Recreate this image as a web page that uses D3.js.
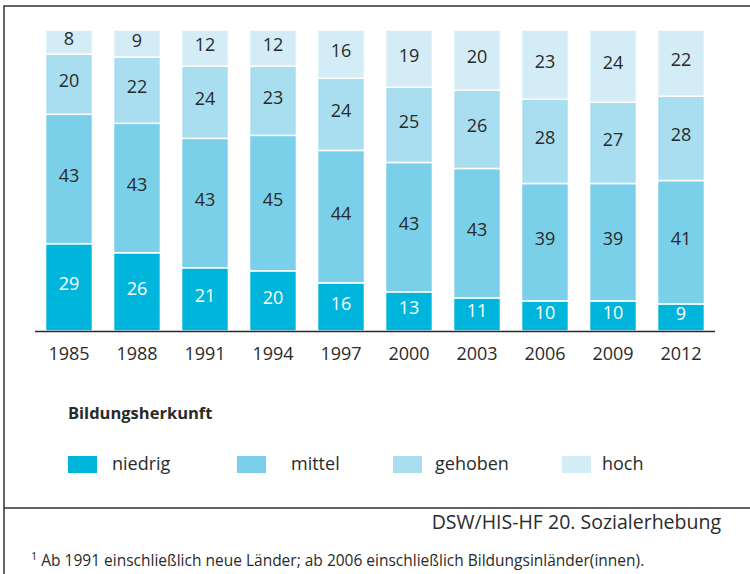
<!DOCTYPE html>
<html>
<head>
<meta charset="utf-8">
<script src="https://cdn.jsdelivr.net/npm/d3@7"></script>
<style>
  body { margin: 0; background: #fff; }
  svg { display: block; font-family: "Open Sans", sans-serif; }
</style>
</head>
<body>
<svg id="chart" width="750" height="574"></svg>
<script>
'use strict';

const years = ['1985', '1988', '1991', '1994', '1997', '2000', '2003', '2006', '2009', '2012'];
const seriesNames = ['niedrig', 'mittel', 'gehoben', 'hoch'];
const niedrig = [29, 26, 21, 20, 16, 13, 11, 10, 10, 9];
const mittel = [43, 43, 43, 45, 44, 43, 43, 39, 39, 41];
const gehoben = [20, 22, 24, 23, 24, 25, 26, 28, 27, 28];
const hoch = [8, 9, 12, 12, 16, 19, 20, 23, 24, 22];
const colors = ['#00b5dc', '#7ad0e8', '#a8deef', '#d3ecf5'];
const labelColors = ['#ffffff', '#2a2a2a', '#2a2a2a', '#2a2a2a'];

const legendTitle = 'Bildungsherkunft';
const source = 'DSW/HIS-HF 20. Sozialerhebung';
const footnote = 'Ab 1991 einschließlich neue Länder; ab 2006 einschließlich Bildungsinländer(innen).';

const svg = d3.select('#chart');
const ink = '#2a2a2a';

// table for the stack
const rows = years.map((y, i) => ({
  year: y,
  niedrig: niedrig[i],
  mittel: mittel[i],
  gehoben: gehoben[i],
  hoch: hoch[i]
}));

const stack = d3.stack().keys(seriesNames)(rows);

const x = d3.scaleBand()
  .domain(years)
  .range([35, 715])
  .paddingInner(0.31)
  .paddingOuter(0.155);

const y = d3.scaleLinear()
  .domain([0, 100])
  .range([331, 30]);

// frame
svg.append('path')
  .attr('d', 'M4,574 L4,6 L750,6 M4,508 L750,508')
  .attr('fill', 'none')
  .attr('stroke', '#333')
  .attr('stroke-width', 1.5);

const layers = svg.append('g')
  .selectAll('g')
  .data(stack)
  .join('g')
  .attr('fill', (d, i) => colors[i]);

layers.selectAll('rect')
  .data(d => d)
  .join('rect')
  .attr('x', d => x(d.data.year))
  .attr('y', d => y(d[1]))
  .attr('width', x.bandwidth())
  .attr('height', d => y(d[0]) - y(d[1]))
  .attr('stroke', '#fff')
  .attr('stroke-width', 1.5);

layers.selectAll('text')
  .data((d, i) => d.map(v => ({v, i, key: d.key})))
  .join('text')
  .attr('x', d => x(d.v.data.year) + x.bandwidth() / 2)
  .attr('y', d => (y(d.v[0]) + y(d.v[1])) / 2 - 4)
  .attr('text-anchor', 'middle')
  .attr('dominant-baseline', 'central')
  .attr('font-size', 18)
  .attr('fill', d => labelColors[d.i])
  .text(d => d.v.data[d.key]);

// x axis
const xAxis = svg.append('g')
  .attr('transform', 'translate(0,331.5)')
  .call(d3.axisBottom(x).tickSize(0).tickPadding(10).tickSizeOuter(0));

xAxis.select('.domain')
  .attr('d', 'M35,0H715')
  .attr('stroke', ink)
  .attr('stroke-width', 1.5);

xAxis.selectAll('text')
  .attr('font-size', 18)
  .attr('font-family', '"Open Sans", sans-serif')
  .attr('fill', ink)
  .attr('dy', null)
  .attr('y', 21)
  .attr('dominant-baseline', 'central');

// legend
svg.append('text')
  .attr('x', 68)
  .attr('y', 419)
  .attr('font-size', 16.5)
  .attr('font-weight', 'bold')
  .attr('fill', ink)
  .text(legendTitle);

const legendX = [68, 237, 393, 562];
const legendTextX = [112, 291, 435, 602];

const legend = svg.append('g')
  .selectAll('g')
  .data(seriesNames)
  .join('g');

legend.append('rect')
  .attr('x', (d, i) => legendX[i])
  .attr('y', 456)
  .attr('width', 29)
  .attr('height', 17)
  .attr('fill', (d, i) => colors[i]);

legend.append('text')
  .attr('x', (d, i) => legendTextX[i])
  .attr('y', 470)
  .attr('font-size', 18)
  .attr('fill', ink)
  .text(d => d);

// source and footnote
svg.append('text')
  .attr('x', 721)
  .attr('y', 529)
  .attr('text-anchor', 'end')
  .attr('font-size', 19.5)
  .attr('fill', ink)
  .text(source);

const foot = svg.append('text')
  .attr('x', 31)
  .attr('y', 566)
  .attr('font-size', 15.5)
  .attr('fill', ink);

foot.append('tspan')
  .attr('font-size', 11)
  .attr('dy', -6)
  .text('1');

foot.append('tspan')
  .attr('dy', 6)
  .attr('dx', 4)
  .text(footnote);
</script>
</body>
</html>
